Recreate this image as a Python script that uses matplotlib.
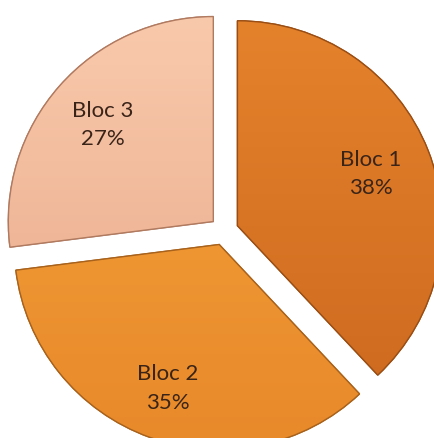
import numpy as np
import matplotlib
matplotlib.use("Agg")
import matplotlib.pyplot as plt
from matplotlib.colors import LinearSegmentedColormap
from matplotlib.patches import Wedge

labels = ["Bloc 1", "Bloc 2", "Bloc 3"]
values = [38, 35, 27]
top_colors = ["#E4822C", "#F5A23A", "#F9C9AC"]
bottom_colors = ["#CC681E", "#E8892A", "#E8A888"]
edge_colors = ["#9A4E14", "#A8621C", "#B07A60"]

fig = plt.figure(figsize=(4.34, 4.39), dpi=100)
ax = fig.add_axes([0, 0, 1, 1])
wedges, _ = ax.pie(values, startangle=90, counterclock=False,
                   explode=[0.07, 0.07, 0.07], colors=top_colors,
                   wedgeprops=dict(linewidth=0.9))
ax.set_xlim(-1.093, 1.024)
ax.set_ylim(-1.010, 1.132)
ax.set_aspect("equal")
ax.axis("off")

label_dist = [0.70, 0.74, 0.72]
for i, w in enumerate(wedges):
    w.set_edgecolor(edge_colors[i])
    cmap = LinearSegmentedColormap.from_list("g%d" % i, [bottom_colors[i], top_colors[i]])
    grad = np.linspace(0, 1, 256).reshape(-1, 1)
    cx, cy = w.center
    im = ax.imshow(grad, cmap=cmap, origin="lower", aspect="auto",
                   extent=[cx - 1.0, cx + 1.0, cy - 1.0, cy + 1.0], zorder=w.get_zorder() + 0.1)
    im.set_clip_path(w)
    e = Wedge((cx, cy), w.r, w.theta1, w.theta2, facecolor="none",
              edgecolor=edge_colors[i], linewidth=1.0, zorder=w.get_zorder() + 0.2)
    ax.add_patch(e)
    mid = np.deg2rad((w.theta1 + w.theta2) / 2)
    d = label_dist[i]
    ax.text(cx + d * np.cos(mid), cy + d * np.sin(mid),
            f"{labels[i]}\n{values[i]}%", ha="center", va="center",
            fontsize=16, family=["Lato", "DejaVu Sans"], color="#3A2418",
            linespacing=1.55, zorder=10)

fig.savefig("out.png", dpi=100)
